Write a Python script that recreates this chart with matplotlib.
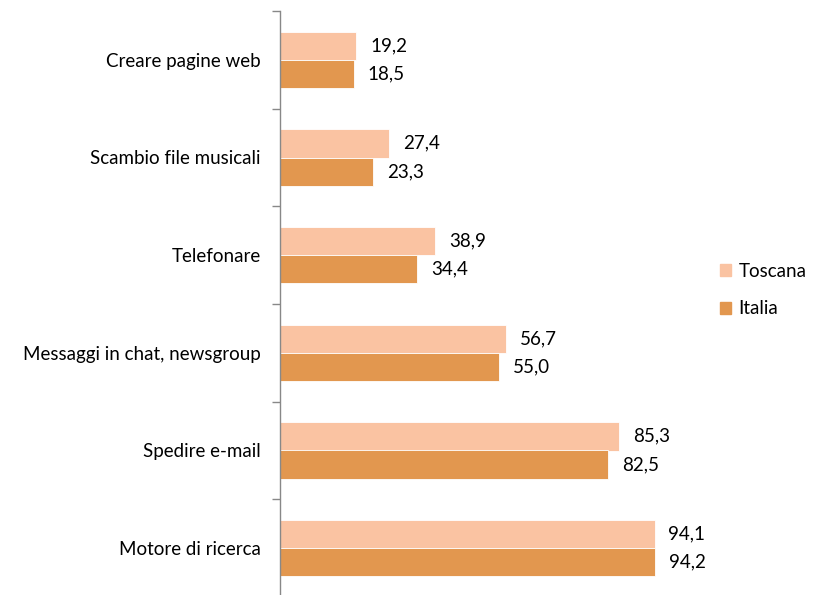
import numpy as np
import matplotlib.pyplot as plt
from matplotlib.patches import Patch

categories = ["Creare pagine web", "Scambio file musicali", "Telefonare",
              "Messaggi in chat, newsgroup", "Spedire e-mail", "Motore di ricerca"]
toscana = [19.2, 27.4, 38.9, 56.7, 85.3, 94.1]
italia = [18.5, 23.3, 34.4, 55.0, 82.5, 94.2]

c_tos = "#FAC3A2"
c_ita = "#E2974F"

plt.rcParams['font.family'] = ['Lato', 'DejaVu Sans']
fs = 13.5

fig = plt.figure(figsize=(8.13, 5.95), dpi=100)
ax = fig.add_axes([280/813, -2/595, 398/813, 586/595])

n = len(categories)
y = np.arange(n)
h = 0.29
ax.barh(y - h/2, toscana, height=h, color=c_tos, edgecolor="white", linewidth=0.6)
ax.barh(y + h/2, italia, height=h, color=c_ita, edgecolor="white", linewidth=0.6)

for i in range(n):
    ax.text(toscana[i] + 3.5, y[i] - h/2, f"{toscana[i]:.1f}".replace(".", ","),
            va="center", ha="left", fontsize=fs)
    ax.text(italia[i] + 3.5, y[i] + h/2, f"{italia[i]:.1f}".replace(".", ","),
            va="center", ha="left", fontsize=fs)

ax.set_xlim(0, 100)
ax.set_ylim(n - 0.5, -0.5)
ax.set_yticks(y)
ax.set_yticklabels(categories, fontsize=fs)
ax.set_yticks(np.arange(n + 1) - 0.5, minor=True)
ax.tick_params(axis="y", which="major", length=0, pad=14)
ax.tick_params(axis="y", which="minor", length=6, color="#888888", width=1)
ax.set_xticks([])
for s in ["top", "right", "bottom"]:
    ax.spines[s].set_visible(False)
ax.spines["left"].set_color("#888888")
ax.spines["left"].set_linewidth(1)

handles = [Patch(color=c_tos, label="Toscana"), Patch(color=c_ita, label="Italia")]
fig.legend(handles=handles, loc="center left", bbox_to_anchor=(712/813, 1 - 290/595),
           frameon=False, fontsize=fs, handlelength=0.6, handleheight=0.6,
           handletextpad=0.4, labelspacing=1.1, borderaxespad=0)

fig.savefig("out.png", dpi=100)
